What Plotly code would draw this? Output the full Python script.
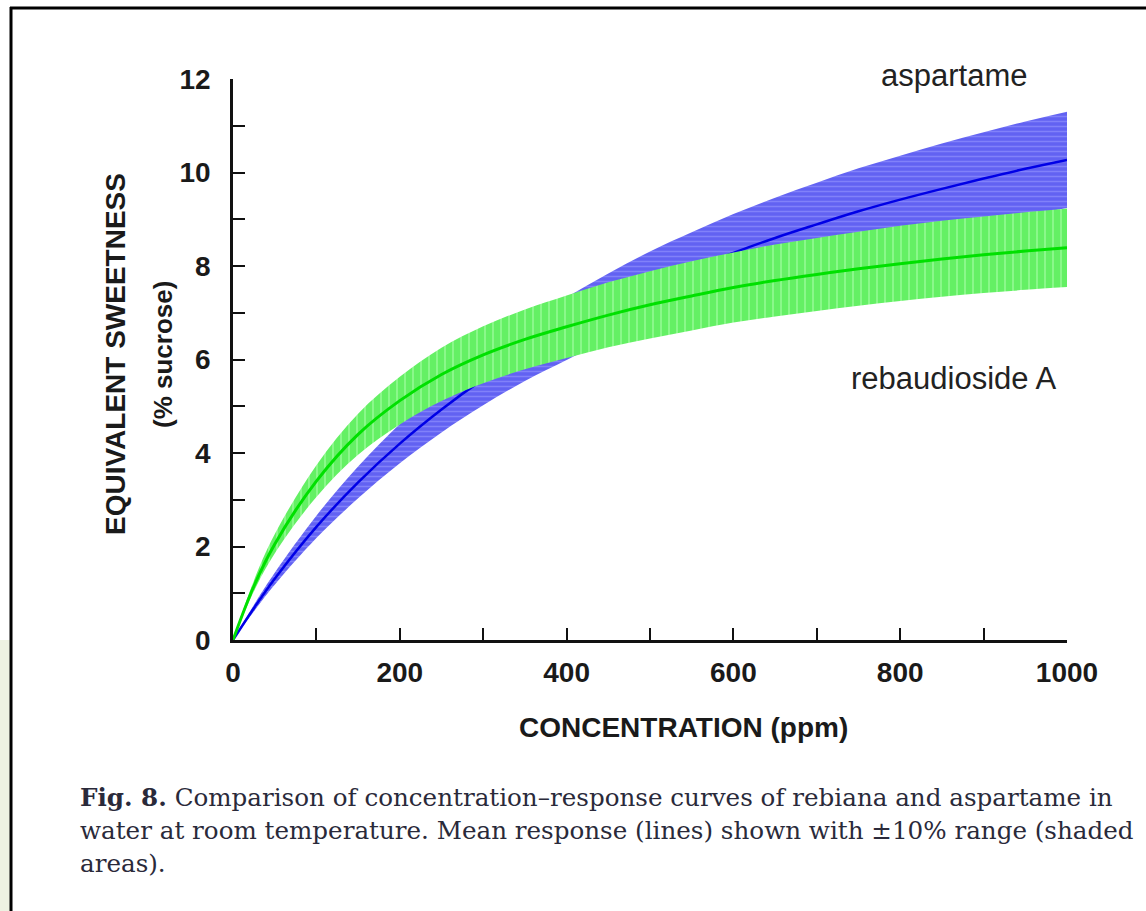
import plotly.graph_objects as go

# ---- data ----
concentration = [0, 25, 50, 100, 150, 200, 250, 300, 350, 400, 450, 500,
                 550, 600, 650, 700, 750, 800, 850, 900, 950, 1000]

aspartame_mean = [0, 0.68, 1.31, 2.42, 3.37, 4.20, 4.93, 5.58, 6.15, 6.66, 7.13, 7.55,
                  7.93, 8.28, 8.60, 8.89, 9.17, 9.42, 9.65, 9.87, 10.08, 10.27]
aspartame_upper = [0, 0.75, 1.44, 2.66, 3.71, 4.62, 5.42, 6.14, 6.77, 7.33, 7.84, 8.31,
                   8.72, 9.11, 9.46, 9.78, 10.09, 10.36, 10.62, 10.86, 11.09, 11.30]
aspartame_lower = [0, 0.61, 1.18, 2.18, 3.03, 3.78, 4.44, 5.02, 5.54, 5.99, 6.42, 6.80,
                   7.14, 7.45, 7.74, 8.00, 8.25, 8.48, 8.69, 8.88, 9.07, 9.24]

rebA_mean = [0, 1.15, 2.05, 3.40, 4.40, 5.12, 5.68, 6.10, 6.43, 6.70, 6.95, 7.17,
             7.36, 7.54, 7.69, 7.82, 7.94, 8.05, 8.15, 8.24, 8.32, 8.39]
rebA_upper = [0, 1.27, 2.26, 3.74, 4.84, 5.63, 6.25, 6.71, 7.07, 7.37, 7.65, 7.89,
              8.10, 8.29, 8.46, 8.60, 8.73, 8.86, 8.97, 9.06, 9.15, 9.23]
rebA_lower = [0, 1.04, 1.85, 3.06, 3.96, 4.61, 5.11, 5.49, 5.79, 6.03, 6.26, 6.45,
              6.62, 6.79, 6.92, 7.04, 7.15, 7.25, 7.34, 7.42, 7.49, 7.55]

x_tick_vals = [0, 200, 400, 600, 800, 1000]
y_tick_vals = [0, 2, 4, 6, 8, 10, 12]

caption_lines = [
    "<b>Fig. 8.</b> Comparison of concentration–response curves of rebiana and aspartame in",
    "water at room temperature. Mean response (lines) shown with ±10% range (shaded",
    "areas).",
]

# ---- page geometry (pixels) ----
W, H = 1146, 911
L, R, T, B = 233, 1067, 79, 640   # plot area edges


def px(xp):
    return (xp - L) / (R - L)


def py(yp):
    return (B - yp) / (B - T)


BLUE_LINE = "#0000e6"
GREEN_LINE = "#00e000"
AXIS = "#111111"

fig = go.Figure()

# aspartame band (horizontal hatching)
fig.add_trace(go.Scatter(x=concentration, y=aspartame_lower, mode="lines",
                         line=dict(width=0, shape="spline", color="#6464f0"),
                         showlegend=False, hoverinfo="skip"))
fig.add_trace(go.Scatter(x=concentration, y=aspartame_upper, mode="lines",
                         line=dict(width=0, shape="spline", color="#6464f0"),
                         fill="tonexty", fillcolor="#6464f0",
                         fillpattern=dict(shape="-", bgcolor="#6262f2", fgcolor="#a0a0ff",
                                          size=5, solidity=0.3),
                         showlegend=False, hoverinfo="skip"))
fig.add_trace(go.Scatter(x=concentration, y=aspartame_mean, mode="lines",
                         line=dict(width=2.5, shape="spline", color=BLUE_LINE),
                         name="aspartame", showlegend=False))

# rebaudioside A band (vertical hatching)
fig.add_trace(go.Scatter(x=concentration, y=rebA_lower, mode="lines",
                         line=dict(width=0, shape="spline", color="#66f066"),
                         showlegend=False, hoverinfo="skip"))
fig.add_trace(go.Scatter(x=concentration, y=rebA_upper, mode="lines",
                         line=dict(width=0, shape="spline", color="#66f066"),
                         fill="tonexty", fillcolor="#66f066",
                         fillpattern=dict(shape="|", bgcolor="#64f064", fgcolor="#b0ffb0",
                                          size=8, solidity=0.25),
                         showlegend=False, hoverinfo="skip"))
fig.add_trace(go.Scatter(x=concentration, y=rebA_mean, mode="lines",
                         line=dict(width=3, shape="spline", color=GREEN_LINE),
                         name="rebaudioside A", showlegend=False))

tick_font = dict(family="Liberation Sans, Arial, sans-serif", size=28, color="#1a1a1a",
                 weight="bold")

fig.update_layout(
    width=W, height=H,
    margin=dict(l=L, r=W - R, t=T, b=H - B, pad=0),
    paper_bgcolor="white", plot_bgcolor="white",
    showlegend=False,
    xaxis=dict(range=[0, 1000], tickvals=x_tick_vals, ticktext=[str(v) for v in x_tick_vals],
               ticks="inside", ticklen=12, tickwidth=2, tickcolor=AXIS,
               minor=dict(dtick=100, ticks="inside", ticklen=12, tickwidth=2, tickcolor=AXIS),
               showline=True, linewidth=2.5, linecolor=AXIS,
               showgrid=False, zeroline=False, tickfont=tick_font, ticklabelstandoff=6),
    yaxis=dict(range=[0, 12], tickvals=y_tick_vals, ticktext=[str(v) for v in y_tick_vals],
               ticks="inside", ticklen=12, tickwidth=2, tickcolor=AXIS,
               minor=dict(dtick=1, ticks="inside", ticklen=12, tickwidth=2, tickcolor=AXIS),
               showline=True, linewidth=2.5, linecolor=AXIS,
               showgrid=False, zeroline=False, tickfont=tick_font, ticklabelstandoff=14),
)

title_font = dict(family="Liberation Sans, Arial, sans-serif", size=28, color="#1a1a1a",
                  weight="bold")
sub_font = dict(family="Liberation Sans, Arial, sans-serif", size=26, color="#1a1a1a",
                weight="bold")
label_font = dict(family="Liberation Sans, Arial, sans-serif", size=31, color="#222222")
caption_font = dict(family="DejaVu Serif, serif", size=24.6, color="#2a2a3a")

annotations = [
    dict(text="EQUIVALENT SWEETNESS", x=px(115), y=py(354), textangle=-90,
         font=title_font),
    dict(text="(% sucrose)", x=px(163), y=py(355), textangle=-90, font=sub_font),
    dict(text="CONCENTRATION (ppm)", x=px(683), y=py(727), font=title_font),
    dict(text="aspartame", x=px(954), y=py(75), font=label_font),
    dict(text="rebaudioside A", x=px(953), y=py(378), font=label_font),
]
for i, line in enumerate(caption_lines):
    annotations.append(dict(text=line, x=px(78), y=py(797 + 33 * i), xanchor="left",
                            font=caption_font))
for a in annotations:
    a.update(xref="paper", yref="paper", showarrow=False)
    a.setdefault("xanchor", "center")
    a.setdefault("yanchor", "middle")
fig.update_layout(annotations=annotations)

# page frame
fig.add_shape(type="rect", xref="paper", yref="paper", x0=px(0), x1=px(10),
              y0=py(911), y1=py(640), line=dict(width=0), fillcolor="#eef2e2", layer="below")
fig.add_shape(type="line", xref="paper", yref="paper", x0=px(11), x1=px(11),
              y0=py(7), y1=py(915), line=dict(color="black", width=3))
fig.add_shape(type="line", xref="paper", yref="paper", x0=px(10), x1=px(1150),
              y0=py(8), y1=py(8), line=dict(color="black", width=3))

fig.write_html("out.html")
